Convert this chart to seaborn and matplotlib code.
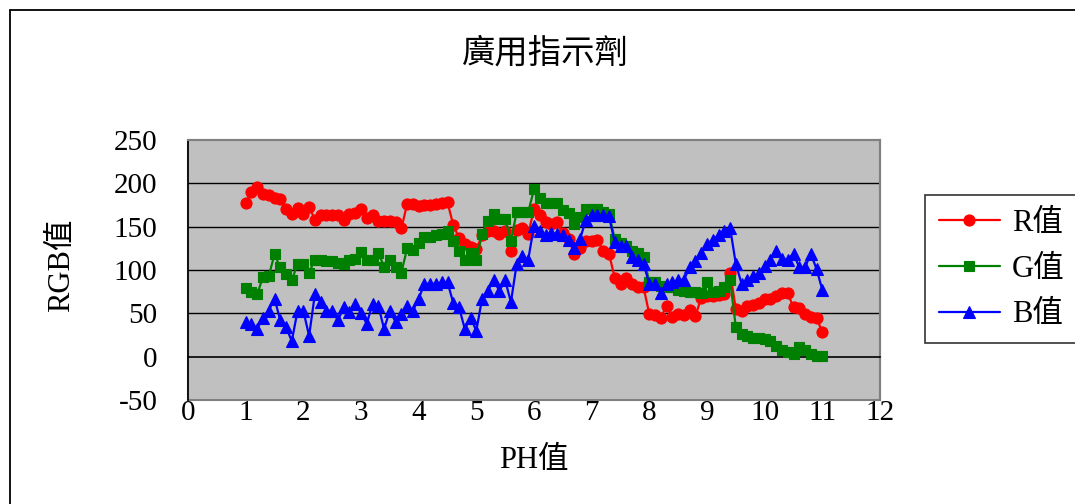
import matplotlib
matplotlib.use("Agg")
import matplotlib.pyplot as plt
import matplotlib.patches as mpatches
import numpy as np
import pandas as pd
import seaborn as sns

# pH readings (x axis)
ph = [1.0, 1.1, 1.2, 1.3, 1.4, 1.5, 1.6, 1.7, 1.8, 1.9,
      2.0, 2.1, 2.2, 2.3, 2.4, 2.5, 2.6, 2.7, 2.8, 2.9,
      3.0, 3.1, 3.2, 3.3, 3.4, 3.5, 3.6, 3.7, 3.8, 3.9,
      4.0, 4.1, 4.2, 4.3, 4.4, 4.5, 4.6, 4.7, 4.8, 4.9,
      5.0, 5.1, 5.2, 5.3, 5.4, 5.5, 5.6, 5.7, 5.8, 5.9,
      6.0, 6.1, 6.2, 6.3, 6.4, 6.5, 6.6, 6.7, 6.8, 6.9,
      7.0, 7.1, 7.2, 7.3, 7.4, 7.5, 7.6, 7.7, 7.8, 7.9,
      8.0, 8.1, 8.2, 8.3, 8.4, 8.5, 8.6, 8.7, 8.8, 8.9,
      9.0, 9.1, 9.2, 9.3, 9.4, 9.5, 9.6, 9.7, 9.8, 9.9,
      10.0, 10.1, 10.2, 10.3, 10.4, 10.5, 10.6, 10.7, 10.8, 10.9,
      11.0]

r_vals = [177, 190, 196, 188, 187, 183, 182, 170, 165, 172,
          165, 173, 158, 163, 164, 164, 164, 158, 165, 166,
          170, 160, 163, 157, 157, 156, 155, 148, 176, 176,
          174, 175, 175, 176, 177, 178, 152, 137, 130, 126,
          124, 140, 145, 145, 142, 145, 122, 146, 148, 142,
          170, 163, 155, 153, 155, 143, 136, 118, 125, 134,
          134, 135, 122, 119, 91, 84, 91, 84, 80, 80,
          49, 48, 45, 59, 46, 49, 48, 54, 47, 68,
          70, 70, 71, 72, 97, 55, 53, 58, 60, 62,
          67, 67, 70, 73, 73, 57, 56, 49, 46, 45,
          28]

g_vals = [79, 75, 72, 92, 93, 118, 103, 95, 88, 107,
          107, 97, 112, 112, 110, 110, 108, 107, 111, 113,
          121, 111, 112, 120, 104, 112, 103, 97, 125, 123,
          131, 138, 138, 140, 142, 145, 134, 122, 111, 120,
          111, 142, 157, 165, 159, 159, 134, 167, 167, 167,
          193, 183, 177, 177, 177, 169, 166, 153, 161, 170,
          170, 170, 167, 165, 136, 131, 128, 122, 120, 115,
          86, 86, 82, 80, 80, 77, 76, 75, 75, 73,
          86, 75, 76, 80, 88, 34, 26, 24, 22, 22,
          20, 18, 12, 8, 5, 3, 11, 8, 3, 1,
          1]

b_vals = [40, 38, 32, 45, 53, 67, 42, 34, 18, 53,
          53, 24, 72, 63, 53, 53, 42, 57, 51, 61,
          50, 38, 61, 59, 32, 53, 40, 49, 59, 53,
          67, 84, 84, 84, 86, 86, 62, 57, 32, 45,
          30, 67, 76, 88, 76, 88, 63, 107, 116, 112,
          151, 145, 140, 143, 141, 140, 135, 125, 136, 158,
          163, 163, 163, 162, 132, 128, 128, 115, 111, 107,
          84, 84, 74, 84, 86, 88, 89, 103, 110, 120,
          130, 135, 140, 145, 149, 107, 84, 88, 93, 96,
          105, 111, 122, 113, 112, 119, 103, 103, 119, 101,
          77]

series_names = ["R值", "G值", "B值"]
series_colors = ["#FF0000", "#008000", "#0000FF"]
series_markers = ["o", "s", "^"]
series_msizes = [8, 7.5, 8.5]

df = pd.DataFrame({
    "pH": ph * 3,
    "value": r_vals + g_vals + b_vals,
    "series": sum([[n] * len(ph) for n in series_names], []),
})

sns.set_style("white")
plt.rcParams["font.family"] = ["Liberation Serif", "Noto Sans CJK TC", "DejaVu Sans"]
plt.rcParams["axes.unicode_minus"] = False
plt.rcParams["text.color"] = "black"
plt.rcParams["xtick.color"] = "black"
plt.rcParams["ytick.color"] = "black"

W, H = 1075, 504
fig = plt.figure(figsize=(W / 100, H / 100), dpi=100)
fig.patch.set_facecolor("white")

# outer chart frame
fig.patches.append(mpatches.Rectangle((10 / W, -0.2), 1.5, 1.2 - 10 / H,
                                      transform=fig.transFigure, fill=False,
                                      edgecolor="black", linewidth=1.3, zorder=0))

ax = fig.add_axes([188 / W, 1 - 400 / H, (880 - 188) / W, (400 - 140) / H])
ax.set_facecolor("#C0C0C0")
ax.patch.set_edgecolor("#808080")
ax.patch.set_linewidth(1.5)

for name, color, mk, ms in zip(series_names, series_colors, series_markers, series_msizes):
    sub = df[df["series"] == name]
    sns.lineplot(data=sub, x="pH", y="value", ax=ax, color=color, marker=mk,
                 markersize=ms, markeredgecolor=color, markeredgewidth=0.8,
                 linewidth=1.6, label=name, sort=False, zorder=3)

ax.set_xlim(0, 12)
ax.set_ylim(-50, 250)
ax.set_xticks(range(0, 13))
ax.set_yticks(range(-50, 251, 50))

# horizontal gridlines only inside the plot area
for yv in range(50, 201, 50):
    ax.axhline(yv, color="black", linewidth=1.0, zorder=1)
ax.grid(False)

ax.spines["bottom"].set_position(("data", 0))
ax.spines["bottom"].set_color("black")
ax.spines["bottom"].set_linewidth(1.2)
ax.spines["left"].set_color("black")
ax.spines["left"].set_linewidth(1.2)
for s in ("top", "right"):
    ax.spines[s].set_color("#808080")
    ax.spines[s].set_linewidth(1.5)

ax.tick_params(axis="x", direction="in", length=7, width=1, color="black",
               labelcolor="black", pad=31, labelsize=21)
ax.tick_params(axis="y", direction="out", length=4, width=1, color="black",
               labelcolor="black", pad=18, labelsize=21)

ax.set_xlabel("")
ax.set_ylabel("")
fig.text(534 / W, 1 - 460 / H, "PH值", ha="center", va="center", fontsize=22,
         color="black")
fig.text(62 / W, 1 - 265 / H, "RGB值", ha="center", va="center", fontsize=22,
         rotation=90, color="black")
fig.text(545 / W, 1 - 54 / H, "廣用指示劑", ha="center", va="center", fontsize=24,
         color="black")

handles, labels = ax.get_legend_handles_labels()
if ax.legend_:
    ax.legend_.remove()
leg = fig.legend(handles, labels, loc="upper left",
                 bbox_to_anchor=(925 / W, 1 - 195 / H),
                 bbox_transform=fig.transFigure,
                 frameon=True, fancybox=False, shadow=False,
                 fontsize=22, handlelength=2.0, handletextpad=0.4,
                 labelspacing=0.55, borderpad=0.45, borderaxespad=0,
                 labelcolor="black")
leg.get_frame().set_edgecolor("black")
leg.get_frame().set_linewidth(1.2)

fig.savefig("out.png", dpi=100, facecolor="white")
